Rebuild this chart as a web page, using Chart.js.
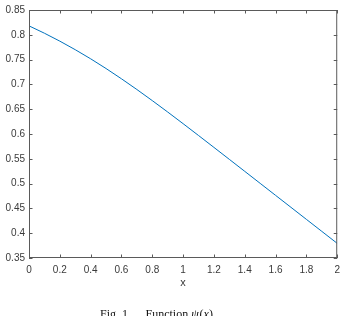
<!DOCTYPE html>
<html>
<head>
<meta charset="utf-8">
<script src="https://cdn.jsdelivr.net/npm/chart.js@4.4.1/dist/chart.umd.min.js"></script>
<style>
  html, body { margin: 0; padding: 0; background: #fff; }
  #wrap { width: 346px; height: 316px; position: relative; }
</style>
</head>
<body>
<div id="wrap"><canvas id="psi-chart" width="346" height="316"></canvas></div>
<script>
const xs = [0, 0.1, 0.2, 0.3, 0.4, 0.5, 0.6, 0.7, 0.8, 0.9, 1.0, 1.1, 1.2, 1.3, 1.4, 1.5, 1.6, 1.7, 1.8, 1.9, 2.0]
const psi = [0.8180, 0.8032, 0.7872, 0.7700, 0.7516, 0.7320, 0.7113, 0.6897, 0.6673, 0.6443, 0.6208,
             0.5970, 0.5730, 0.5489, 0.5247, 0.5005, 0.4763, 0.4521, 0.4279, 0.4037, 0.3795]
const xTicks = [0, 0.2, 0.4, 0.6, 0.8, 1, 1.2, 1.4, 1.6, 1.8, 2]
const yTicks = [0.35, 0.4, 0.45, 0.5, 0.55, 0.6, 0.65, 0.7, 0.75, 0.8, 0.85]

const axisGray = '#5a5a5a'
const textGray = '#3a3a3a'
const lineBlue = '#0072BD'

// matlab-ish box with inward ticks on every side
const boxPlugin = {
  id: 'box',
  afterDraw(chart) {
    const {ctx, chartArea: a, scales} = chart
    const len = 3.5
    ctx.save()
    ctx.strokeStyle = axisGray
    ctx.lineWidth = 1
    ctx.strokeRect(a.left + 0.5, a.top + 0.5, a.right - a.left - 1, a.bottom - a.top - 1)
    ctx.beginPath()
    xTicks.forEach(v => {
      const px = Math.round(scales.x.getPixelForValue(v)) + 0.5
      ctx.moveTo(px, a.bottom); ctx.lineTo(px, a.bottom - len)
      ctx.moveTo(px, a.top); ctx.lineTo(px, a.top + len)
    })
    yTicks.forEach(v => {
      const py = Math.round(scales.y.getPixelForValue(v)) + 0.5
      ctx.moveTo(a.left, py); ctx.lineTo(a.left + len, py)
      ctx.moveTo(a.right, py); ctx.lineTo(a.right - len, py)
    })
    ctx.stroke()

    // figure caption under the axes
    const serif = '"Liberation Serif", "DejaVu Serif", serif'
    const parts = [['Fig. 1', false, 100], ['Function ', false, 145.5], ['ψ', true], ['(', false], ['x', true], [')', false]]
    ctx.fillStyle = '#111'
    ctx.textBaseline = 'alphabetic'
    let cx = 0
    parts.forEach(([t, it, x0]) => {
      ctx.font = (it ? 'italic ' : '') + '12px ' + serif
      if (x0 !== undefined) cx = x0
      ctx.fillText(t, cx, 318)
      cx += ctx.measureText(t).width + (t === 'ψ' ? 1 : 0)
    })
    ctx.restore()
  }
}

const tickFont = { family: '"Liberation Sans", Arial, sans-serif', size: 10 }

const psiChart = new Chart(document.getElementById('psi-chart').getContext('2d'), {
  type: 'scatter',
  plugins: [boxPlugin],
  data: {
    datasets: [{
      data: xs.map((x, i) => ({ x: x, y: psi[i] })),
      showLine: true,
      borderColor: lineBlue,
      borderWidth: 1,
      pointRadius: 0,
      cubicInterpolationMode: 'monotone',
      fill: false
    }]
  },
  options: {
    responsive: false,
    animation: false,
    layout: { padding: { top: 10, right: 5, left: 0, bottom: 0 } },
    plugins: {
      legend: { display: false },
      tooltip: { enabled: false }
    },
    scales: {
      x: {
        type: 'linear',
        min: 0,
        max: 2,
        afterBuildTicks: s => { s.ticks = xTicks.map(v => ({ value: v })) },
        afterFit: s => { s.height = 58 },
        grid: { display: false, drawTicks: false },
        border: { display: false },
        ticks: {
          padding: 6,
          color: textGray,
          font: tickFont,
          maxRotation: 0,
          autoSkip: false,
          callback: v => String(Math.round(v * 10) / 10)
        },
        title: {
          display: true,
          text: 'x',
          color: textGray,
          font: { family: '"Liberation Sans", Arial, sans-serif', size: 11 },
          padding: { top: 0, bottom: 26 }
        }
      },
      y: {
        type: 'linear',
        min: 0.35,
        max: 0.85,
        afterBuildTicks: s => { s.ticks = yTicks.map(v => ({ value: v })) },
        afterFit: s => { s.width = 29 },
        grid: { display: false, drawTicks: false },
        border: { display: false },
        ticks: {
          padding: 4,
          color: textGray,
          font: tickFont,
          autoSkip: false,
          callback: v => String(Math.round(v * 100) / 100)
        }
      }
    }
  }
})
</script>
</body>
</html>
